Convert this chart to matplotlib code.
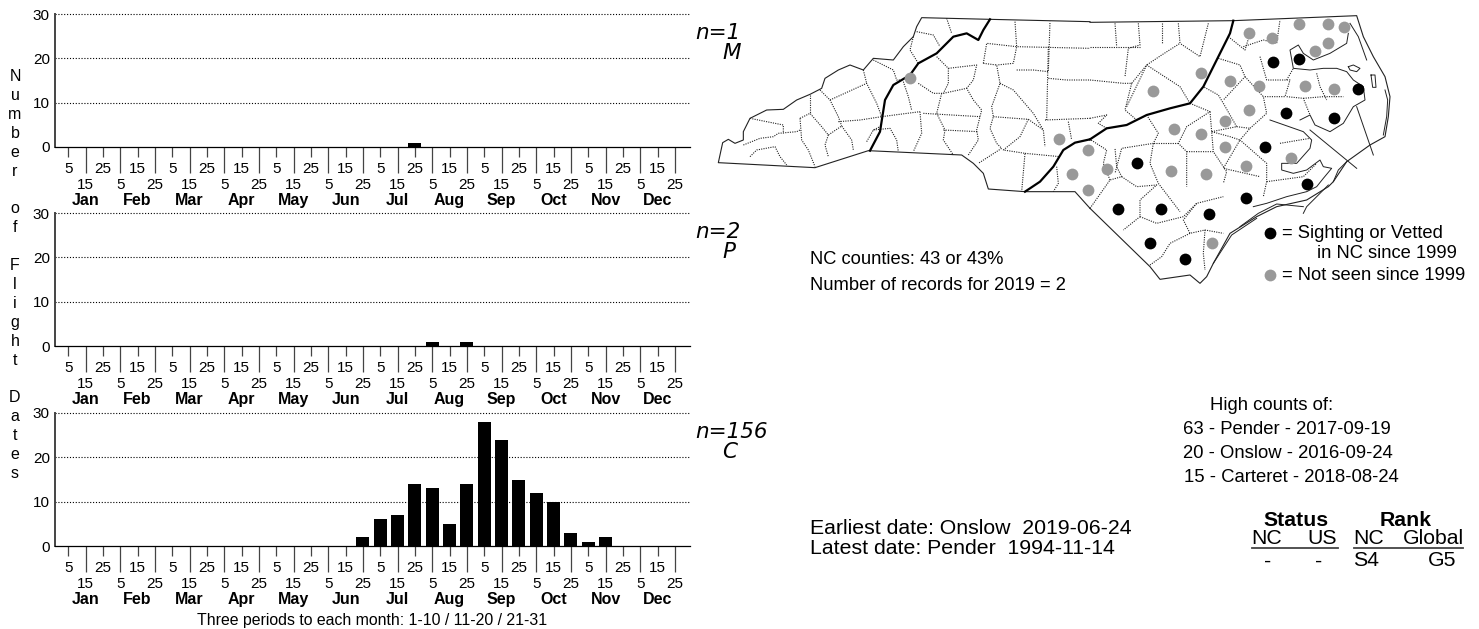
import numpy as np
import matplotlib
matplotlib.use('Agg')
import matplotlib.pyplot as plt

plt.rcParams['font.family'] = ['Liberation Sans', 'DejaVu Sans']

W, H = 1479, 629

# ── Flight chart data ─────────────────────────────────────────────────────────
period_labels = ['5', '15', '25'] * 12
month_names = ['Jan', 'Feb', 'Mar', 'Apr', 'May', 'Jun',
               'Jul', 'Aug', 'Sep', 'Oct', 'Nov', 'Dec']
counts_m = [0] * 20 + [1] + [0] * 15
counts_p = [0] * 21 + [1, 0, 1] + [0] * 12
counts_c = [0] * 17 + [2, 6, 7, 14, 13, 5, 14, 28, 24, 15, 12, 10, 3, 1, 2] + [0] * 4
panel_counts = [counts_m, counts_p, counts_c]
panel_n = ['n=1', 'n=2', 'n=156']
panel_season = ['M', 'P', 'C']
panel_top_px = [14, 213, 413]
panel_bottom_px = [147, 346, 546]

# ── Map data (3x crop units, see west()/east()) ───────────────────────────────
west_border = [(1170, 625), (1125, 575), (975, 575), (865, 567), (850, 520), (820, 490),
               (785, 465), (505, 452), (345, 503), (55, 488), (68, 428), (85, 418),
               (105, 430), (130, 420), (130, 395), (150, 355), (200, 330), (250, 328),
               (290, 300), (330, 283), (365, 265), (375, 235), (415, 210), (450, 195),
               (490, 210), (520, 175), (580, 180), (610, 140), (640, 110), (650, 80),
               (665, 53), (870, 58), (1170, 65)]
east_border = [(0, 67), (430, 62), (800, 47), (820, 110), (850, 170), (885, 230), (900, 290),
               (895, 350), (885, 410), (840, 435), (770, 485), (730, 545), (715, 560),
               (650, 600), (560, 620), (500, 650), (420, 700), (370, 790), (350, 830),
               (330, 850), (300, 825), (210, 838), (180, 800), (0, 625)]
east_sounds = [
    [(775, 100), (770, 130), (720, 160), (670, 180), (640, 160), (625, 135), (600, 150),
     (610, 205), (660, 210), (700, 205), (740, 205), (770, 215), (790, 240), (820, 260),
     (825, 300), (790, 320), (760, 370), (720, 395), (675, 375), (660, 345), (630, 360)],
    [(540, 360), (640, 395), (665, 420), (660, 445), (620, 490), (575, 490), (575, 510),
     (610, 520), (650, 510), (690, 480), (700, 500), (725, 505), (700, 535), (680, 560),
     (650, 575), (590, 590), (530, 610), (490, 620)],
    [(660, 390), (800, 505)],
    [(800, 320), (850, 465)],
    [(780, 70), (805, 110), (830, 180)],
    [(640, 640), (650, 620), (715, 555)],
    [(370, 790), (425, 705), (500, 655)],
    [(775, 200), (790, 195), (810, 205), (800, 215), (780, 210), (775, 200)],
    [(843, 225), (855, 225), (858, 262), (848, 262), (843, 225)],
    [(885, 270), (893, 300), (890, 350), (880, 405)],
    [(640, 620), (560, 612), (505, 640), (450, 680)],
    [(730, 545), (745, 510), (770, 485)],
]
west_bold = [
    [(510, 452), (540, 395), (555, 300), (580, 255), (630, 225), (655, 190), (710, 160),
     (760, 110), (800, 100), (835, 120), (850, 90), (870, 58)],
    [(975, 575), (1020, 545), (1060, 500), (1090, 450), (1125, 428), (1170, 418)],
]
east_bold = [
    [(0, 418), (50, 385), (110, 375), (170, 345), (240, 325), (300, 310), (340, 260),
     (385, 170), (420, 100), (430, 62)],
]
west_counties = [
    [(130, 435), (180, 415), (220, 410), (235, 400), (290, 395), (300, 390)],
    [(150, 470), (170, 450), (225, 440), (240, 470), (260, 495)],
    [(150, 355), (250, 375), (250, 400)],
    [(300, 355), (330, 340), (365, 380), (385, 405), (425, 378), (455, 420), (460, 450)],
    [(300, 355), (305, 420), (325, 450), (345, 500)],
    [(330, 285), (330, 340)],
    [(360, 270), (390, 300), (415, 350), (425, 378)],
    [(390, 300), (500, 250), (530, 310), (545, 350)],
    [(415, 365), (480, 360), (545, 350), (660, 335)],
    [(385, 405), (375, 435), (385, 470)],
    [(490, 210), (500, 250)],
    [(520, 180), (580, 210), (590, 240), (610, 240)],
    [(640, 110), (630, 150), (655, 190)],
    [(650, 95), (700, 105), (720, 140)],
    [(740, 55), (755, 100)],
    [(610, 245), (625, 290), (635, 330)],
    [(655, 250), (700, 280), (730, 280), (800, 265), (820, 300), (845, 330), (830, 390),
     (835, 420), (805, 465)],
    [(660, 335), (665, 400), (640, 455)],
    [(710, 340), (735, 390), (730, 420), (760, 465)],
    [(670, 340), (840, 350)],
    [(730, 390), (835, 395)],
    [(725, 280), (710, 340)],
    [(710, 170), (745, 205), (745, 250), (730, 280)],
    [(745, 205), (830, 195), (820, 240), (800, 265)],
    [(850, 190), (890, 195), (900, 250), (875, 320), (880, 350), (870, 385), (890, 430),
     (905, 445), (835, 490)],
    [(850, 190), (860, 130), (950, 140), (1170, 145)],
    [(945, 65), (950, 140), (940, 190), (890, 195)],
    [(950, 210), (1000, 210), (1045, 215), (1050, 65)],
    [(1045, 235), (1100, 240), (1170, 240)],
    [(900, 250), (940, 270), (1000, 340), (1030, 390), (1035, 440)],
    [(880, 350), (985, 358), (960, 410), (910, 450), (975, 460), (965, 575)],
    [(985, 358), (1030, 390)],
    [(1035, 360), (1170, 355)],
    [(1105, 365), (1115, 420)],
    [(975, 460), (1080, 470)],
    [(1070, 500), (1075, 550), (1060, 575)],
    [(500, 425), (520, 390), (540, 380)],
    [(520, 390), (570, 385), (590, 420), (595, 455)],
    [(1045, 140), (1040, 360)],
]
east_counties = [
    [(75, 70), (80, 140)],
    [(145, 70), (150, 135), (115, 145), (105, 230)],
    [(215, 70), (215, 130)],
    [(265, 70), (270, 130), (215, 165), (170, 195), (110, 320)],
    [(355, 70), (330, 170), (270, 130)],
    [(0, 140), (150, 140)],
    [(0, 240), (100, 250), (125, 250), (170, 195), (270, 260), (300, 310)],
    [(125, 250), (105, 330), (140, 360), (170, 345)],
    [(0, 355), (50, 345), (25, 370), (50, 385)],
    [(170, 345), (205, 400), (190, 430), (95, 445), (75, 520)],
    [(190, 430), (180, 490), (205, 550), (270, 635)],
    [(300, 310), (360, 335), (290, 380), (265, 430), (290, 455), (290, 560)],
    [(265, 430), (190, 430)],
    [(290, 455), (370, 455), (410, 515), (400, 550)],
    [(360, 335), (365, 395), (370, 455)],
    [(365, 395), (440, 380), (400, 310), (385, 285), (340, 260)],
    [(385, 175), (450, 195), (465, 230), (400, 300)],
    [(465, 230), (520, 290), (530, 340), (480, 385), (450, 420), (530, 490), (530, 545),
     (520, 590)],
    [(440, 380), (480, 385)],
    [(365, 395), (420, 410), (450, 420), (400, 505), (510, 530)],
    [(415, 110), (465, 150), (480, 100)],
    [(460, 140), (520, 120), (560, 130), (570, 60)],
    [(510, 170), (530, 240), (600, 240), (585, 290), (520, 290)],
    [(590, 290), (640, 295), (660, 345)],
    [(640, 295), (700, 290), (760, 290)],
    [(680, 220), (690, 260), (710, 300)],
    [(590, 240), (610, 205)],
    [(570, 430), (660, 415)],
    [(530, 545), (640, 530), (680, 490)],
    [(0, 625), (60, 540), (95, 530), (80, 500), (75, 445)],
    [(95, 530), (140, 560), (200, 555), (150, 600), (150, 650), (100, 690)],
    [(150, 650), (200, 670), (280, 650), (320, 610), (400, 590)],
    [(300, 700), (240, 730), (215, 770), (180, 795)],
    [(320, 610), (280, 660), (300, 700), (345, 690), (400, 700)],
    [(345, 690), (340, 760), (345, 810)],
    [(60, 540), (40, 490), (50, 450), (0, 418)],
]
recent_x = [1272.7, 1299.3, 1358, 1286, 1334, 1264.7, 1307.3, 1136.7, 1246, 1117.7, 1160.7,
            1208.7, 1150, 1184.7]
recent_y = [61.7, 59, 89, 112.7, 117.7, 146.7, 184.3, 163, 197.7, 209, 209, 214, 243, 258.7]
old_x = [1299, 1328.3, 1344.3, 1248.7, 1272.3, 1328.3, 1315.3, 1200.7, 1230, 1259.3, 1304.7,
         1334, 1152.7, 1248.7, 1224.7, 1174, 1200.7, 1224.7, 1291.3, 1246, 1107.3, 1171.3,
         1206, 1211.7, 910, 1059, 1072.3, 1088.3, 1088.3]
old_y = [24.3, 24.3, 27, 32.7, 37.7, 42.7, 50.7, 73, 81, 86, 86, 88.7, 90.7, 110, 121, 129,
         134, 147, 157.7, 165.7, 168.7, 171, 173.7, 243, 78, 139, 173.7, 150.3, 190]


def west(pts):
    a = np.array(pts, dtype=float)
    return 700 + a[:, 0] / 3, a[:, 1] / 3


def east(pts):
    a = np.array(pts, dtype=float)
    return 1090 + a[:, 0] / 3, a[:, 1] / 3


fig = plt.figure(figsize=(W / 100, H / 100), dpi=100)

# ── Flight panels ─────────────────────────────────────────────────────────────
idx = np.arange(36)
x_left, x_right = 54.7, 690
tick0, tick_step = 68.3, 17.33

for i, counts in enumerate(panel_counts):
    top, bottom = panel_top_px[i], panel_bottom_px[i]
    ax = fig.add_axes([x_left / W, 1 - bottom / H, (x_right - x_left) / W, (bottom - top) / H])
    ax.set_xlim((x_left - tick0) / tick_step, (x_right - tick0) / tick_step)
    ax.set_ylim(0, 30)
    ax.patch.set_alpha(0)
    ax.bar(idx, counts, width=0.75, color='black', zorder=3)

    for v in [10, 20, 30]:
        ax.axhline(v, color='black', lw=0.8, ls=(0, (1, 1.6)), zorder=1, clip_on=False)

    for s in ['top', 'right']:
        ax.spines[s].set_visible(False)
    ax.spines['left'].set_color('#444444')
    ax.spines['left'].set_linewidth(1.4)
    ax.spines['bottom'].set_color('black')
    ax.spines['bottom'].set_linewidth(0.9)

    ax.set_yticks([0, 10, 20, 30])
    ax.tick_params(axis='y', length=0, pad=3.5, labelsize=11)

    ax.set_xticks(idx[1::2])
    ax.set_xticklabels([period_labels[j] for j in idx[1::2]])
    ax.set_xticks(idx[0::2], minor=True)
    ax.set_xticklabels([period_labels[j] for j in idx[0::2]], minor=True)
    ax.tick_params(axis='x', which='major', length=18.7, width=0.9, color='#444444',
                   pad=3.5, labelsize=11)
    ax.tick_params(axis='x', which='minor', length=7.2, width=0.9, color='#444444',
                   pad=3.5, labelsize=11)

    for m, name in enumerate(month_names):
        ax.annotate(name, (3 * m + 1, 0), xycoords='data', xytext=(0, -38.5), textcoords='offset points',
                    ha='center', va='center', fontweight='bold', fontsize=11.5, annotation_clip=False)

# ── Overlay in picture pixels, holds the map and the free text ────────────────
ov = fig.add_axes([0, 0, 1, 1])
ov.set_xlim(0, W)
ov.set_ylim(H, 0)
ov.axis('off')
ov.patch.set_alpha(0)

for conv, lines in [(west, west_counties), (east, east_counties)]:
    for line in lines:
        x, y = conv(line)
        ov.plot(x, y, color='#222222', lw=0.8, ls=(0, (1, 1.1)))
for pts in [west(west_border), east(east_border)]:
    ov.plot(pts[0], pts[1], color='#222222', lw=0.8)
for line in east_sounds:
    x, y = east(line)
    ov.plot(x, y, color='#222222', lw=0.7)
for conv, lines in [(west, west_bold), (east, east_bold)]:
    for line in lines:
        x, y = conv(line)
        ov.plot(x, y, color='black', lw=1.6)

ov.scatter(recent_x, recent_y, s=72, color='black', linewidths=0, zorder=5)
ov.scatter(old_x, old_y, s=72, color='#999999', linewidths=0, zorder=5)
ov.scatter([1270], [233], s=72, color='black', linewidths=0, zorder=5)
ov.scatter([1270], [275], s=72, color='#999999', linewidths=0, zorder=5)


def label(x, y, s, size=13.2, **kw):
    kw.setdefault('ha', 'left')
    ov.text(x, y, s, fontsize=size, va='center', **kw)


# y axis title, one letter per row
ylabel_rows = list('Number') + [''] + list('of') + [''] + list('Flight') + [''] + list('Dates')
ov.text(15, 275, '\n'.join(ylabel_rows), ha='center', va='center', fontsize=11.5, linespacing=1.325)

for i in range(3):
    top = panel_top_px[i]
    label(695, top + 19, panel_n[i], size=15.5, family='DejaVu Sans', style='italic')
    label(722, top + 39, panel_season[i], size=15.5, family='DejaVu Sans', style='italic')

ov.text(372, 620, 'Three periods to each month: 1-10 / 11-20 / 21-31', ha='center', va='center', fontsize=11.4)

label(1282, 233, '= Sighting or Vetted')
label(1317, 253, 'in NC since 1999')
label(1282, 275, '= Not seen since 1999')
label(810, 259, 'NC counties: 43 or 43%')
label(810, 285, 'Number of records for 2019 = 2')
label(810, 528, 'Earliest date: Onslow  2019-06-24', size=15.3)
label(810, 548, 'Latest date: Pender  1994-11-14', size=15.3)

label(1210, 405, 'High counts of:', size=13.3)
label(1183, 429, '63 - Pender - 2017-09-19', size=13.3)
label(1183, 453, '20 - Onslow - 2016-09-24', size=13.3)
label(1184, 477, '15 - Carteret - 2018-08-24', size=13.3)

label(1296, 520, 'Status', size=15.3, ha='center', fontweight='bold')
label(1406, 520, 'Rank', size=15.3, ha='center', fontweight='bold')
for x, s in [(1267, 'NC'), (1322, 'US'), (1369, 'NC'), (1433, 'Global')]:
    label(x, 538, s, size=15.3, ha='center')
for x, s in [(1268, '-'), (1319, '-'), (1366, 'S4'), (1442, 'G5')]:
    label(x, 561, s, size=15.3, ha='center')
ov.plot([1252, 1338], [548, 548], color='#444444', lw=1.3)
ov.plot([1354, 1463], [548, 548], color='#444444', lw=1.3)

fig.savefig('out.png', dpi=100)
